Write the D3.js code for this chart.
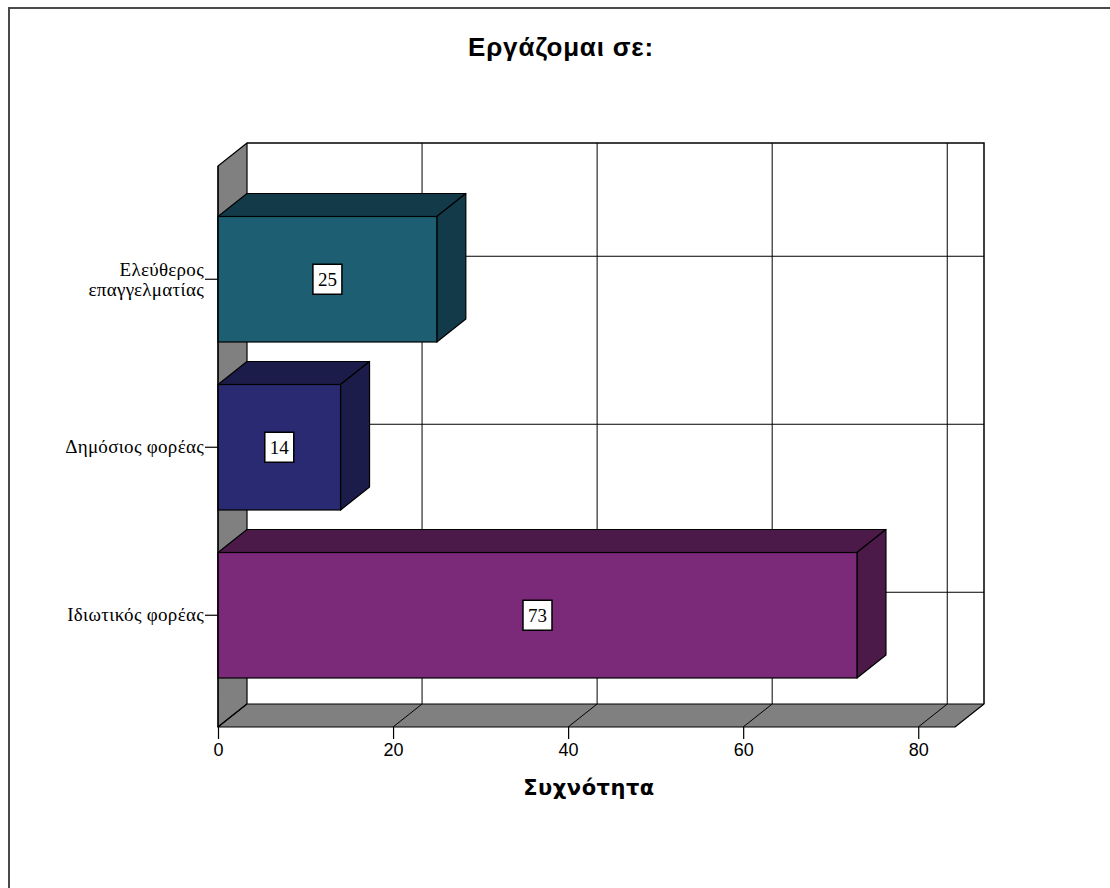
<!DOCTYPE html>
<html>
<head>
<meta charset="utf-8">
<script src="https://cdn.jsdelivr.net/npm/d3@7"></script>
<style>
  html, body { margin: 0; padding: 0; background: #fff; overflow: hidden; }
  svg { display: block; }
</style>
</head>
<body>
<svg id="chart" width="1110" height="888"></svg>
<script>
// Employment sector — frequency counts
const categories = ["Ελεύθερος\nεπαγγελματίας", "Δημόσιος φορέας", "Ιδιωτικός φορέας"];
const counts = [25, 14, 73];
const xTicks = [0, 20, 40, 60, 80];
const xMax = 84.2;

const titleText = "Εργάζομαι σε:";
const xTitleText = "Συχνότητα";

// Face colours per bar: front, top/side
const frontColors = ["#1d5e73", "#2a2a72", "#7b2979"];
const shadeColors = ["#133a49", "#1c1c4a", "#4b1a49"];
const wallGray = "#808080";

const svg = d3.select("#chart");

// Plot geometry (front plane) and depth offset of the 3D box
const plotLeft = 218, plotRight = 955, plotTop = 166, plotBottom = 727;
const dx = 29, dy = -23;

const x = d3.scaleLinear().domain([0, xMax]).range([plotLeft, plotRight]);
const y = d3.scaleBand().domain(categories)
  .range([195.25, 699.25]).paddingInner(0.253).paddingOuter(0.1265);

// Outer frame (runs past the right and bottom edges)
svg.append("path")
  .attr("d", d3.line()([[9, 900], [9, 8], [1120, 8]]))
  .attr("fill", "none").attr("stroke", "#4a4a4a").attr("stroke-width", 2);

// Title
svg.append("text")
  .attr("x", 561).attr("y", 56)
  .attr("text-anchor", "middle")
  .style("font-family", "'Liberation Sans', Arial, sans-serif")
  .style("font-weight", "bold").style("font-size", "26px")
  .style("letter-spacing", "0.8px")
  .text(titleText);

const line = d3.line();
const poly = pts => line(pts) + "Z";

// Back wall
const bx0 = plotLeft + dx, bx1 = plotRight + dx, by0 = plotTop + dy, by1 = plotBottom + dy;
svg.append("rect")
  .attr("x", bx0).attr("y", by0).attr("width", bx1 - bx0).attr("height", by1 - by0)
  .attr("fill", "#fff");

// Back-wall grid: vertical at ticks, horizontal at category centres
svg.append("g").selectAll("line").data(xTicks.filter(t => t > 0)).join("line")
  .attr("x1", d => x(d) + dx).attr("x2", d => x(d) + dx)
  .attr("y1", by0).attr("y2", by1)
  .attr("stroke", "#000").attr("stroke-width", 1);

svg.append("g").selectAll("line").data(categories).join("line")
  .attr("x1", bx0).attr("x2", bx1)
  .attr("y1", d => y(d) + y.bandwidth() / 2 + dy)
  .attr("y2", d => y(d) + y.bandwidth() / 2 + dy)
  .attr("stroke", "#000").attr("stroke-width", 1);

// Back wall outline (top and right edges)
svg.append("path")
  .attr("d", line([[bx0, by0], [bx1, by0], [bx1, by1]]))
  .attr("fill", "none").attr("stroke", "#000").attr("stroke-width", 1.5);

// Left wall
svg.append("path")
  .attr("d", poly([[plotLeft, plotTop], [bx0, by0], [bx0, by1], [plotLeft, plotBottom]]))
  .attr("fill", wallGray).attr("stroke", "#000").attr("stroke-width", 1.2)
  .attr("stroke-linejoin", "round");

// Floor
svg.append("path")
  .attr("d", poly([[plotLeft, plotBottom], [bx0, by1], [bx1, by1], [plotRight, plotBottom]]))
  .attr("fill", wallGray).attr("stroke", "#000").attr("stroke-width", 1.2)
  .attr("stroke-linejoin", "round");

svg.append("g").selectAll("line").data(xTicks).join("line")
  .attr("x1", d => x(d)).attr("y1", plotBottom)
  .attr("x2", d => x(d) + dx).attr("y2", by1)
  .attr("stroke", "#000").attr("stroke-width", 1);

// Bars
const rows = categories.map((c, i) => ({ cat: c, value: counts[i], i }));
const bars = svg.append("g").selectAll("g").data(rows).join("g");

bars.each(function(d) {
  const g = d3.select(this);
  const x0 = x(0), x1 = x(d.value), y0 = y(d.cat), y1 = y0 + y.bandwidth();
  // top face
  g.append("path")
    .attr("d", poly([[x0, y0], [x0 + dx, y0 + dy], [x1 + dx, y0 + dy], [x1, y0]]))
    .attr("fill", shadeColors[d.i]).attr("stroke", "#000").attr("stroke-width", 1.2)
    .attr("stroke-linejoin", "round");
  // side face
  g.append("path")
    .attr("d", poly([[x1, y0], [x1 + dx, y0 + dy], [x1 + dx, y1 + dy], [x1, y1]]))
    .attr("fill", shadeColors[d.i]).attr("stroke", "#000").attr("stroke-width", 1.2)
    .attr("stroke-linejoin", "round");
  // front face
  g.append("rect")
    .attr("x", x0).attr("y", y0).attr("width", x1 - x0).attr("height", y1 - y0)
    .attr("fill", frontColors[d.i]).attr("stroke", "#000").attr("stroke-width", 1.2);

  // value label
  const cx = (x0 + x1) / 2, cy = (y0 + y1) / 2;
  g.append("rect")
    .attr("x", cx - 14.5).attr("y", cy - 15).attr("width", 29).attr("height", 30)
    .attr("fill", "#fff").attr("stroke", "#000").attr("stroke-width", 1.5);
  g.append("text")
    .attr("x", cx).attr("y", cy + 7)
    .attr("text-anchor", "middle")
    .style("font-family", "'Liberation Serif', 'Times New Roman', serif")
    .style("font-size", "19px")
    .text(d.value);
});

// Left wall front edge
svg.append("line")
  .attr("x1", plotLeft).attr("x2", plotLeft).attr("y1", plotTop).attr("y2", plotBottom)
  .attr("stroke", "#000").attr("stroke-width", 1.2);

// X axis
const xAxis = svg.append("g")
  .attr("transform", `translate(0,${plotBottom})`)
  .call(d3.axisBottom(x).tickValues(xTicks).tickSize(12).tickPadding(4).tickFormat(d3.format("d")));
xAxis.select(".domain").remove();
xAxis.selectAll(".tick line").attr("stroke", "#000").attr("stroke-width", 1.2);
xAxis.selectAll(".tick text")
  .attr("fill", "#000")
  .style("font-family", "'Liberation Sans', Tahoma, sans-serif")
  .style("font-size", "18px");

// Y axis
const yAxis = svg.append("g")
  .attr("transform", `translate(${plotLeft},0)`)
  .call(d3.axisLeft(y).tickSize(13).tickPadding(2).tickFormat(() => ""));
yAxis.select(".domain").remove();
yAxis.selectAll(".tick line").attr("stroke", "#000").attr("stroke-width", 1.2);
yAxis.selectAll(".tick").each(function(d) {
  const lines = d.split("\n");
  const t = d3.select(this).append("text")
    .attr("x", -14).attr("text-anchor", "end").attr("fill", "#000")
    .style("font-family", "'Liberation Serif', 'Times New Roman', serif")
    .style("font-size", "19px")
    .style("letter-spacing", "0.3px");
  const lh = 20;
  const start = lines.length === 1 ? 6 : -3;
  lines.forEach((s, k) => {
    t.append("tspan").attr("x", -14).attr("y", start + k * lh).text(s);
  });
});

// X axis title
svg.append("text")
  .attr("x", 589).attr("y", 795)
  .attr("text-anchor", "middle")
  .style("font-family", "'DejaVu Sans', Verdana, sans-serif")
  .style("font-weight", "bold").style("font-size", "21px")
  .style("letter-spacing", "0.5px")
  .text(xTitleText);
</script>
</body>
</html>
